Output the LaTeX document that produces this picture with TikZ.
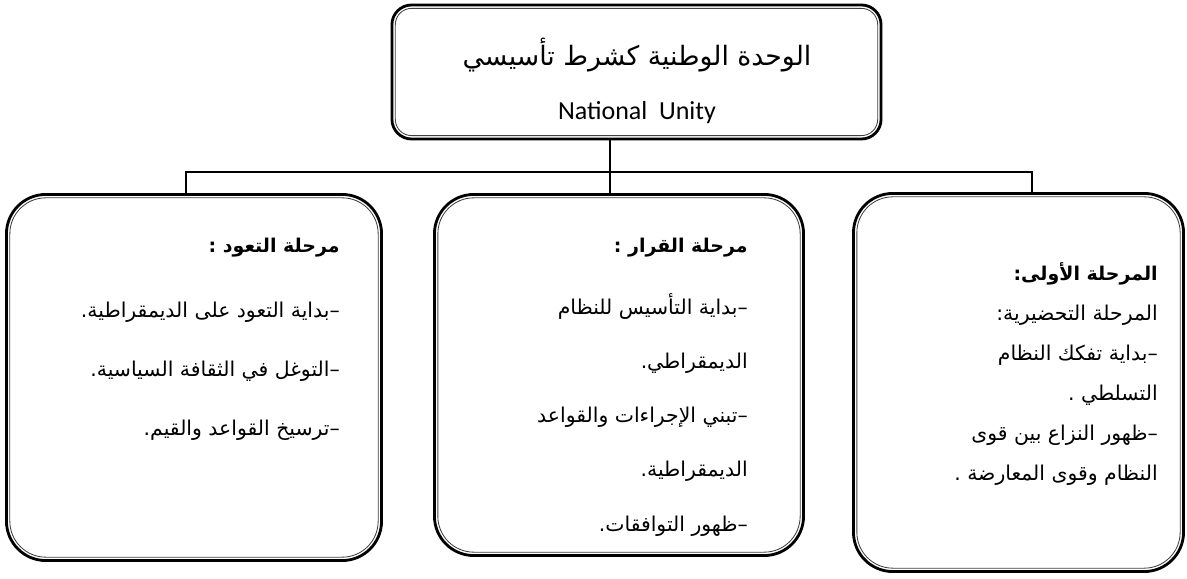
\documentclass[tikz,border=0pt]{standalone}
\usepackage{fontspec}
\usetikzlibrary{positioning}
\TeXXeTstate=1
\newfontfamily\arabicfont[Script=Arabic]{DejaVu Sans}
\newfontfamily\latinsans{Carlito}
\newcommand{\artext}[1]{\beginR #1\endR}

\begin{document}
\begin{tikzpicture}[x=0.025cm, y=0.025cm,
    mainbox/.style={rectangle, draw, line width=2pt, rounded corners=14pt, inner sep=0pt, outer sep=0pt},
    stagebox/.style={rectangle, draw, line width=2pt, rounded corners=28pt, inner sep=0pt, outer sep=0pt},
    innerline/.style={draw=black!75, line width=0.6pt},
    stagetext/.style={anchor=north east, align=right, inner sep=0pt},
    link/.style={line width=0.9pt}]
    \useasboundingbox (0,0) rectangle (1187,578);

    % top box
    \node[mainbox, minimum width=12.225cm, minimum height=3.35cm] (top) at (636.5, 506) {};
    \node[inner sep=0pt, font=\arabicfont\fontsize{19}{24}\selectfont] (title) at (637, 523) {\artext{الوحدة الوطنية كشرط تأسيسي}};
    \node[inner sep=0pt, font=\latinsans\fontsize{18.5}{22}\selectfont] (subtitle) at (637, 465) {National\ \ Unity};

    % stage boxes
    \node[stagebox, minimum width=8.25cm, minimum height=9.45cm] (s1) at (1018.5, 195.5) {};
    \node[stagebox, minimum width=9.225cm, minimum height=9.025cm] (s2) at (619, 203) {};
    \node[stagebox, minimum width=9.375cm, minimum height=9.15cm] (s3) at (194, 200.5) {};

    % thin inner frames
    \foreach \b/\r in {top/11.6pt, s1/25.6pt, s2/25.6pt, s3/25.6pt}
        \draw[innerline, rounded corners=\r] ([shift={(2.4pt,2.4pt)}]\b.south west) rectangle ([shift={(-2.4pt,-2.4pt)}]\b.north east);

    % connectors
    \coordinate (hub) at (610, 406);
    \coordinate (hubL) at (186, 406);
    \coordinate (hubR) at (1032, 406);
    \draw[link] (top.south -| hub) -- (hub);
    \draw[link] (hubL |- s3.north) -- (hubL) -- (hubR) -- (hubR |- s1.north);
    \draw[link] (hub) -- (hub |- s2.north);

    % stage texts
    \node[stagetext, font=\arabicfont\fontsize{14.5}{28.5}\selectfont] (t1) at (1158, 316) {%
        {\fontsize{13.5}{28.5}\selectfont\bfseries\artext{المرحلة الأولى:}}\\
        \artext{المرحلة التحضيرية:}\\
        \artext{–بداية تفكك النظام}\\
        \artext{التسلطي .}\\
        \artext{–ظهور النزاع بين قوى}\\
        \artext{النظام وقوى المعارضة .}};
    \node[stagetext, font=\arabicfont\fontsize{14.5}{38.6}\selectfont] (t2) at (748, 340) {%
        {\fontsize{13.5}{38.6}\selectfont\bfseries\artext{مرحلة القرار :}}\\[5pt]
        \artext{–بداية التأسيس للنظام}\\
        \artext{الديمقراطي.}\\
        \artext{–تبني الإجراءات والقواعد}\\
        \artext{الديمقراطية.}\\
        \artext{–ظهور التوافقات.}};
    \node[stagetext, font=\arabicfont\fontsize{14.5}{42}\selectfont] (t3) at (340, 340) {%
        {\fontsize{13.5}{42}\selectfont\bfseries\artext{مرحلة التعود :}}\\[4pt]
        \artext{–بداية التعود على الديمقراطية.}\\
        \artext{–التوغل في الثقافة السياسية.}\\
        \artext{–ترسيخ القواعد والقيم.}};
\end{tikzpicture}
\end{document}
